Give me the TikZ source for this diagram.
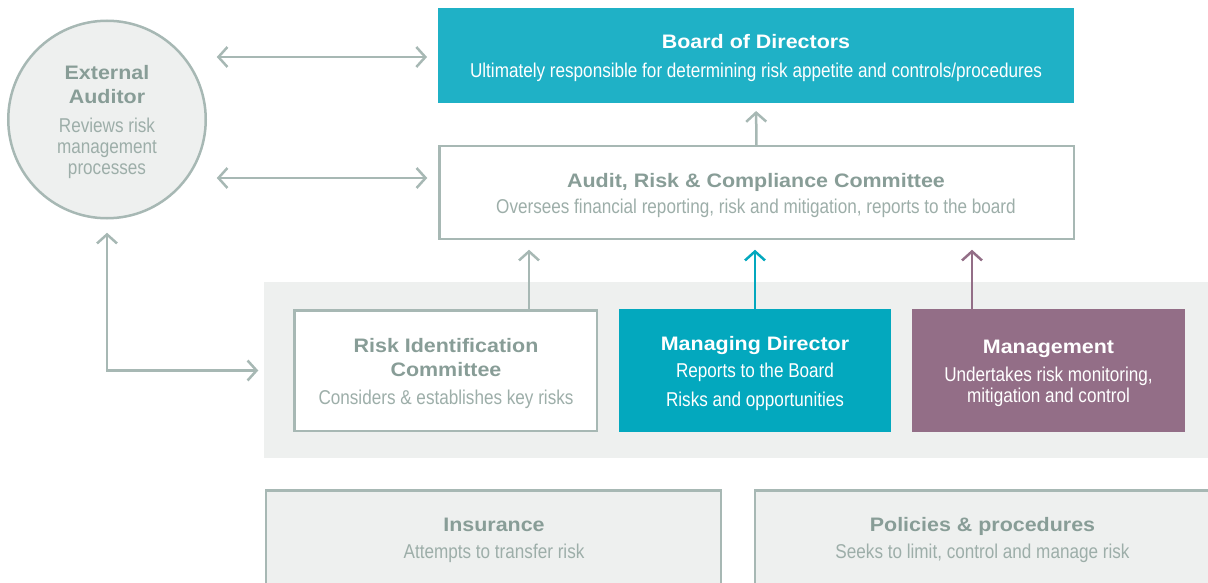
\documentclass[tikz,border=0pt]{standalone}
\usepackage{fontspec}
\setmainfont{Liberation Sans}
\newfontfamily\tfont{Liberation Sans}[FakeStretch=1.1]
\newfontfamily\sfont{Liberation Sans}[FakeStretch=0.856]
\usetikzlibrary{arrows.meta}
\definecolor{grayline}{HTML}{A7B8B4}
\definecolor{titlegray}{HTML}{889D97}
\definecolor{subgray}{HTML}{9DAEA9}
\definecolor{bandgray}{HTML}{EEF0EF}
\definecolor{boardteal}{HTML}{1FB1C6}
\definecolor{mdteal}{HTML}{03A8BE}
\definecolor{mgmtpurple}{HTML}{936E87}
\tikzset{
  ln/.style={draw=grayline, line width=2.5pt},
  barb/.tip={Straight Barb[length=9pt,width=20pt]},
  tip/.style={-barb},
  dtip/.style={barb-barb},
  boxnode/.style={rectangle, inner sep=0pt, outer sep=0pt},
  ttl/.style={font=\tfont\bfseries\fontsize{19.5}{19.5}\selectfont, anchor=base, inner sep=0pt},
  sub/.style={font=\sfont\fontsize{20}{20}\selectfont, anchor=base, inner sep=0pt},
}
\begin{document}
\begin{tikzpicture}[x=1pt,y=-1pt]
\useasboundingbox (0,0) rectangle (1208,583);
\clip (0,0) rectangle (1208,583);
% background band
\node[boxnode, fill=bandgray, minimum width=960pt, minimum height=176pt, anchor=north west] (band) at (264,282) {};
% boxes
\node[boxnode, fill=boardteal, minimum width=636pt, minimum height=95pt] (board) at (756,55.5) {};
\node[boxnode, ln, fill=white, minimum width=634.5pt, minimum height=92.5pt] (arc) at (756.5,192.5) {};
\node[circle, inner sep=0pt, outer sep=0pt, ln, fill=bandgray, minimum size=197.5pt] (ext) at (107,119.5) {};
\node[boxnode, ln, fill=white, minimum width=302.5pt, minimum height=120.5pt] (ric) at (445.5,370.5) {};
\node[boxnode, fill=mdteal, minimum width=272pt, minimum height=123pt] (md) at (755,370.5) {};
\node[boxnode, fill=mgmtpurple, minimum width=273pt, minimum height=123pt] (mgmt) at (1048.5,370.5) {};
\node[boxnode, ln, fill=bandgray, minimum width=455pt, minimum height=150pt] (ins) at (493.5,565.25) {};
\node[boxnode, ln, fill=bandgray, minimum width=455pt, minimum height=150pt] (pol) at (982.5,565.25) {};
% connector end points
\coordinate (bw) at ([yshift=-1.5pt]board.west);
\coordinate (aw) at ([yshift=14.5pt]arc.west);
\coordinate (rn) at ([xshift=83.5pt]ric.north);
\coordinate (mn) at ([xshift=-76.5pt]mgmt.north);
% connectors
\draw[ln, tip, shorten >=8pt] (arc.north) -- (board.south);
\draw[ln, dtip, shorten <=11pt, shorten >=11pt] (ext.east |- bw) -- (bw);
\draw[ln, dtip, shorten <=11pt, shorten >=12pt] (ext.east |- aw) -- (aw);
\draw[ln, dtip, shorten <=14.5pt, shorten >=36pt] (ext.south) |- (ric.west);
\draw[ln, tip, shorten >=11pt] (rn) -- (rn |- arc.south);
\draw[line width=2.5pt, draw=mdteal, tip, shorten >=11pt] (md.north) -- (md.north |- arc.south);
\draw[line width=2.5pt, draw=mgmtpurple, tip, shorten >=11pt] (mn) -- (mn |- arc.south);
% texts
\node[ttl, white] (t1) at (756,48.5) {Board of Directors};
\node[sub, white] (s1) at (756,77.5) {Ultimately responsible for determining risk appetite and controls/procedures};
\node[ttl, titlegray] (t2) at (756,187) {Audit, Risk \& Compliance Committee};
\node[sub, subgray] (s2) at (756,213) {Oversees financial reporting, risk and mitigation, reports to the board};
\node[ttl, titlegray] (t3a) at (107,80) {External};
\node[ttl, titlegray] (t3b) at (107,104) {Auditor};
\node[sub, subgray] (s3a) at (107,133) {Reviews risk};
\node[sub, subgray] (s3b) at (107,154) {management};
\node[sub, subgray] (s3c) at (107,175) {processes};
\node[ttl, titlegray] (t4a) at (446,352) {Risk Identification};
\node[ttl, titlegray] (t4b) at (446,376) {Committee};
\node[sub, subgray] (s4) at (446,404.5) {Considers \& establishes key risks};
\node[ttl, white] (t5) at (755,350) {Managing Director};
\node[sub, white] (s5a) at (755,377.5) {Reports to the Board};
\node[sub, white] (s5b) at (755,406) {Risks and opportunities};
\node[ttl, white] (t6) at (1048.5,353) {Management};
\node[sub, white] (s6a) at (1048.5,381.5) {Undertakes risk monitoring,};
\node[sub, white] (s6b) at (1048.5,402.5) {mitigation and control};
\node[ttl, titlegray] (t7) at (494,531) {Insurance};
\node[sub, subgray] (s7) at (494,558.5) {Attempts to transfer risk};
\node[ttl, titlegray] (t8) at (982.5,531) {Policies \& procedures};
\node[sub, subgray] (s8) at (982.5,558.5) {Seeks to limit, control and manage risk};
\end{tikzpicture}
\end{document}
